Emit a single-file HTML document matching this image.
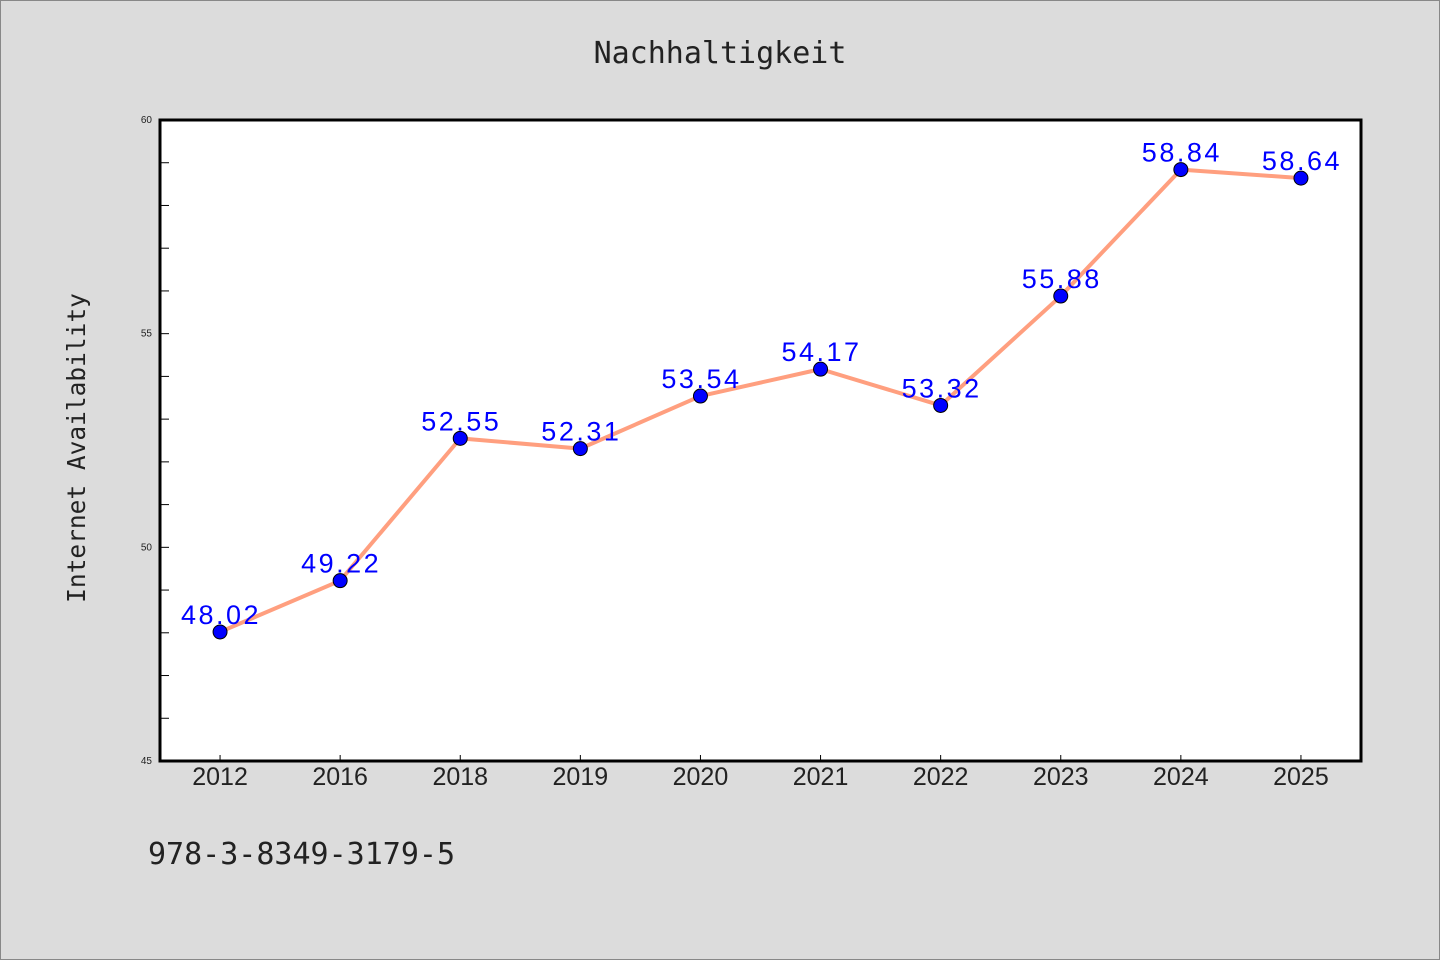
<!DOCTYPE html>
<html><head><meta charset="utf-8"><style>
html,body{margin:0;padding:0;background:#dcdcdc;}
svg{display:block;}
</style></head><body>
<svg width="1440" height="960" viewBox="0 0 1440 960">
<rect x="0.5" y="0.5" width="1439" height="959" fill="#dcdcdc" stroke="#888"/>
<text x="720" y="63" text-anchor="middle" font-family="DejaVu Sans Mono, monospace" font-size="30" fill="#222">Nachhaltigkeit</text>
<rect x="160" y="120" width="1201" height="641" fill="#fff"/>
<g id="axes"></g>
<g id="series"></g>
<rect x="160" y="120" width="1201" height="641" fill="none" stroke="#000" stroke-width="3"/>
<text transform="translate(85,448) rotate(-90)" text-anchor="middle" font-family="DejaVu Sans Mono, monospace" font-size="24.5" fill="#222">Internet Availability</text>
<text x="148" y="864" font-family="DejaVu Sans Mono, monospace" font-size="30" fill="#222">978-3-8349-3179-5</text>
</svg>
<script>
const categories=["2012","2016","2018","2019","2020","2021","2022","2023","2024","2025"];
const values=[48.02,49.22,52.55,52.31,53.54,54.17,53.32,55.88,58.84,58.64];
const yTicks=[45,50,55,60];
const ns="http://www.w3.org/2000/svg";
const L=160,R=1361,T=120,B=761,yMin=45,yMax=60;
const bw=(R-L)/categories.length;
const x=i=>L+bw*(i+0.5);
const y=v=>B-(v-yMin)/(yMax-yMin)*(B-T);
function mk(tag,attrs,parent){const e=document.createElementNS(ns,tag);for(const k in attrs)e.setAttribute(k,attrs[k]);parent.appendChild(e);return e;}
const ax=document.getElementById('axes'),se=document.getElementById('series');
for(let v=yMin+1;v<yMax;v++){
 const t=mk('line',{x1:L,x2:L+9,y1:y(v),y2:y(v),stroke:'#000','stroke-width':1},ax);
 
 
}
yTicks.forEach(v=>{
 const t=mk('text',{x:L-8,y:y(v)+3,'text-anchor':'end','font-family':'Liberation Sans, sans-serif','font-size':10,fill:'#222'},ax);
 t.textContent=v;
 
 
});
categories.forEach((c,i)=>{
 const tk=mk('line',{x1:x(i),x2:x(i),y1:B,y2:B-6,stroke:'#000','stroke-width':1},ax);
 
 
 const t=mk('text',{x:x(i),y:B+24,'text-anchor':'middle','font-family':'Liberation Sans, sans-serif','font-size':25,fill:'#222'},ax);
 t.textContent=c;
 
 
});
const line=mk('polyline',{points:values.map((v,i)=>x(i)+','+y(v)).join(' '),fill:'none',stroke:'#ff9f7f','stroke-width':4,'stroke-linejoin':'round'},se);


values.forEach((v,i)=>{
 const p=mk('circle',{cx:x(i),cy:y(v),r:7,fill:'#0000ff',stroke:'#000','stroke-width':1},se);
 
 
 const t=mk('text',{x:x(i)+1,y:y(v)-8,'text-anchor':'middle','font-family':'Liberation Sans, sans-serif','font-size':27,'letter-spacing':2.5,fill:'#0000ff'},se);
 t.textContent=v.toFixed(2);
 
 
});
</script>
</body></html>
